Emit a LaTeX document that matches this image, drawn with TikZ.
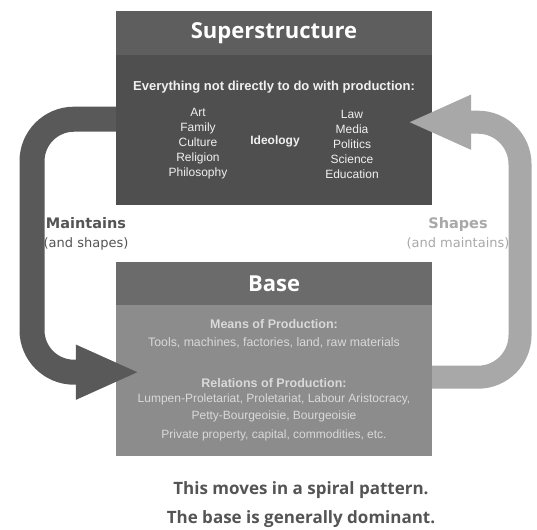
\documentclass[tikz,border=0pt]{standalone}
\usepackage{fontspec}
\setmainfont{Liberation Sans}
\newfontfamily\headfont{Open Sans}
\newfontfamily\labelfont{DejaVu Sans}
\usetikzlibrary{arrows.meta}
\definecolor{suphead}{gray}{0.37}
\definecolor{supbody}{gray}{0.31}
\definecolor{basehead}{gray}{0.42}
\definecolor{basebody}{gray}{0.55}
\definecolor{darkarrow}{gray}{0.35}
\definecolor{lightarrow}{gray}{0.66}
\definecolor{notegray}{gray}{0.33}
\tikzset{
  boxbody/.style={rectangle, inner sep=0, minimum width=316pt, minimum height=194pt, anchor=north},
  boxhead/.style={rectangle, inner sep=0, minimum width=316pt, anchor=north, text=white,
    font=\headfont\bfseries\fontsize{22}{24}\selectfont},
  suptext/.style={text=white!94!black, align=center},
  basetext/.style={text=white!85!black, align=center},
  looparrow/.style={line width=25pt, rounded corners=42pt, -{Triangle[length=64pt, width=50pt]}}
}

\begin{document}
\begin{tikzpicture}[x=1pt, y=-1pt]
      \useasboundingbox (0,0) rectangle (537,529);

      % Superstructure box
      \node[boxbody, fill=supbody] (sup) at (274,11) {};
      \node[boxhead, fill=suphead, minimum height=44pt] (suptitle) at (sup.north) {Superstructure};
      \node[suptext, font=\bfseries\fontsize{13}{15}\selectfont] (everything) at (274,87)
        {Everything not directly to do with production:};
      \node[suptext, font=\fontsize{12}{15}\selectfont] (leftlist) at (198,144)
        {Art\\Family\\Culture\\Religion\\Philosophy};
      \node[suptext, font=\bfseries\fontsize{12}{15}\selectfont] (ideology) at (275,141) {Ideology};
      \node[suptext, font=\fontsize{12}{15}\selectfont] (rightlist) at (352,144)
        {Law\\Media\\Politics\\Science\\Education};

      % Base box
      \node[boxbody, fill=basebody] (base) at (274,262) {};
      \node[boxhead, fill=basehead, minimum height=43pt] (basetitle) at (base.north) {Base};
      \node[basetext, font=\bfseries\fontsize{12.5}{15}\selectfont] (means) at (274,324) {Means of Production:};
      \node[basetext, font=\fontsize{12.3}{14}\selectfont] (tools) at (274,343)
        {Tools, machines, factories, land, raw materials};
      \node[basetext, font=\bfseries\fontsize{12.5}{15}\selectfont] (relations) at (274,383) {Relations of Production:};
      \node[basetext, font=\fontsize{12}{17}\selectfont] (classes) at (274,408)
        {Lumpen-Proletariat, Proletariat, Labour Aristocracy,\\Petty-Bourgeoisie, Bourgeoisie};
      \node[basetext, font=\fontsize{12}{14}\selectfont] (property) at (274,435)
        {Private property, capital, commodities, etc.};

      % Arrows
      \coordinate (lout) at ([yshift=-11pt]sup.west);
      \coordinate (lin) at ([xshift=24pt, yshift=-13pt]base.west);
      \coordinate (lside) at (32,250);
      \draw[looparrow, draw=darkarrow] (lout) -| (lside |- lin) -- (lin);
      \coordinate (rout) at ([yshift=-18pt]base.east);
      \coordinate (rin) at ([xshift=-25pt, yshift=-14pt]sup.east);
      \coordinate (rside) at (520,250);
      \draw[looparrow, line width=23pt, draw=lightarrow] (rout) -| (rside |- rin) -- (rin);

      % Arrow labels
      \node[text=notegray, align=center, font=\labelfont\fontsize{13}{19}\selectfont] (maintains) at (86,234)
        {{\bfseries\fontsize{14.5}{19}\selectfont Maintains}\\(and shapes)};
      \node[text=lightarrow, align=center, font=\labelfont\fontsize{13}{19}\selectfont] (shapes) at (458,233)
        {{\bfseries\fontsize{14.5}{19}\selectfont Shapes}\\(and maintains)};

      % Note below
      \node[text=notegray, align=center, font=\headfont\bfseries\fontsize{17}{29}\selectfont] (note) at (301,505)
        {This moves in a spiral pattern.\\The base is generally dominant.};
    \end{tikzpicture}
\end{document}
